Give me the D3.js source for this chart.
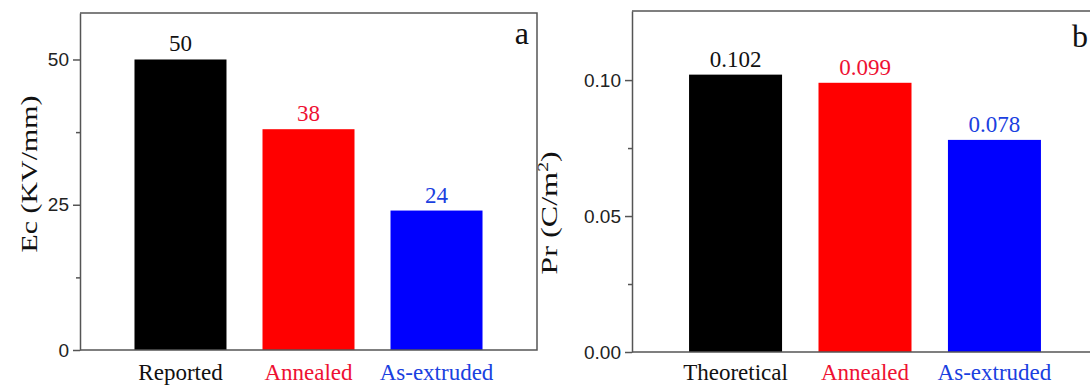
<!DOCTYPE html>
<html>
<head>
<meta charset="utf-8">
<script src="https://cdn.jsdelivr.net/npm/d3@7/dist/d3.min.js"></script>
<style>
  body { margin: 0; background: #fff; }
  svg { display: block; }
  .tick text { font-family: "Liberation Sans", Arial, sans-serif; font-size: 19px; fill: #222; }
  .domain, .tick line { stroke: #555; stroke-width: 1.5px; }
</style>
</head>
<body>
<div class="chart"></div>
<script>
// panel a data
var catsA = ["Reported", "Annealed", "As-extruded"];
var valsA = [50, 38, 24];
var ticksA = [0, 25, 50];
var minorA = [12.5, 37.5];

// panel b data
var catsB = ["Theoretical", "Annealed", "As-extruded"];
var valsB = [0.102, 0.099, 0.078];
var labelsB = ["0.102", "0.099", "0.078"];
var ticksB = [0, 0.05, 0.10];
var minorB = [0.025, 0.075];

var barColors = ["#000000", "#ff0000", "#0000ff"];
var textColors = ["#111111", "#ee1133", "#1a40e0"];

var svg = d3.select(".chart")
  .append("svg")
  .attr("width", 1090)
  .attr("height", 385);

function drawPanel(opt) {
  var x = d3.scalePoint()
    .domain(opt.cats)
    .range([opt.left, opt.right])
    .padding(opt.pad);

  var y = d3.scaleLinear()
    .domain(opt.domain)
    .range([opt.bottom, opt.top]);

  var g = svg.append("g");

  // bars
  g.selectAll("rect.bar")
    .data(opt.vals)
    .enter()
    .append("rect")
    .attr("class", "bar")
    .attr("x", (d, i) => x(opt.cats[i]) - opt.barW / 2)
    .attr("y", d => y(d))
    .attr("width", opt.barW)
    .attr("height", d => y(0) - y(d))
    .attr("fill", (d, i) => barColors[i]);

  // value labels
  g.selectAll("text.val")
    .data(opt.vals)
    .enter()
    .append("text")
    .attr("class", "val")
    .attr("x", (d, i) => x(opt.cats[i]))
    .attr("y", d => y(d) - 8)
    .attr("text-anchor", "middle")
    .style("font-family", "'Liberation Serif', 'Times New Roman', serif")
    .style("font-size", "23px")
    .style("fill", (d, i) => textColors[i])
    .text((d, i) => opt.labels[i]);

  // category labels
  g.selectAll("text.cat")
    .data(opt.cats)
    .enter()
    .append("text")
    .attr("class", "cat")
    .attr("x", d => x(d))
    .attr("y", opt.catY)
    .attr("text-anchor", "middle")
    .style("font-family", "'Liberation Serif', 'Times New Roman', serif")
    .style("font-size", "23px")
    .style("fill", (d, i) => textColors[i])
    .text(d => d);

  // left axis (major)
  g.append("g")
    .attr("transform", `translate(${opt.left},0)`)
    .call(d3.axisLeft(y).tickValues(opt.ticks).tickFormat(opt.fmt).tickSize(7).tickSizeOuter(0).tickPadding(4));

  // minor ticks
  g.append("g")
    .attr("transform", `translate(${opt.left},0)`)
    .call(d3.axisLeft(y).tickValues(opt.minor).tickFormat("").tickSize(4).tickSizeOuter(0))
    .select(".domain").remove();

  // frame
  var frame = d3.path();
  frame.moveTo(opt.left, opt.top);
  frame.lineTo(opt.frameRight, opt.top);
  if (opt.closed) frame.lineTo(opt.frameRight, opt.bottom);
  else frame.moveTo(opt.frameRight, opt.bottom);
  frame.lineTo(opt.left, opt.bottom);
  g.append("path")
    .attr("d", frame.toString())
    .attr("fill", "none")
    .attr("stroke", "#555")
    .attr("stroke-width", 1.5);

  // panel letter
  g.append("text")
    .attr("x", opt.letterX)
    .attr("y", opt.letterY)
    .attr("text-anchor", opt.letterAnchor)
    .style("font-family", "'Liberation Serif', 'Times New Roman', serif")
    .style("font-size", "32px")
    .style("fill", "#111")
    .text(opt.letter);

  return g;
}

var gA = drawPanel({
  cats: catsA, vals: valsA, labels: valsA.map(String),
  ticks: ticksA, minor: minorA, fmt: d3.format("d"),
  domain: [0, 58], left: 80, right: 537, top: 13, bottom: 350,
  pad: 0.785, barW: 92, catY: 380, frameRight: 537, closed: true,
  letter: "a", letterX: 529, letterY: 44, letterAnchor: "end"
});

var gB = drawPanel({
  cats: catsB, vals: valsB, labels: labelsB,
  ticks: ticksB, minor: minorB, fmt: d3.format(".2f"),
  domain: [0, 0.1254], left: 632, right: 1098, top: 11, bottom: 352,
  pad: 0.8, barW: 93, catY: 380, frameRight: 1100, closed: false,
  letter: "b", letterX: 1072, letterY: 47, letterAnchor: "start"
});

// y axis titles (stretched along their length like the source)
svg.append("text")
  .attr("transform", "translate(37,174) rotate(-90) scale(1.3,1)")
  .attr("text-anchor", "middle")
  .style("font-family", "'Liberation Serif', 'Times New Roman', serif")
  .style("font-size", "23px")
  .style("fill", "#111")
  .text("Ec (KV/mm)");

var prTitle = svg.append("text")
  .attr("transform", "translate(557,213) rotate(-90) scale(1.4,1)")
  .attr("text-anchor", "middle")
  .style("font-family", "'Liberation Serif', 'Times New Roman', serif")
  .style("font-size", "23px")
  .style("fill", "#111");
prTitle.append("tspan").text("Pr (C/m");
prTitle.append("tspan").attr("dy", -9).style("font-size", "14px").text("2");
prTitle.append("tspan").attr("dy", 9).text(")");
</script>
</body>
</html>
